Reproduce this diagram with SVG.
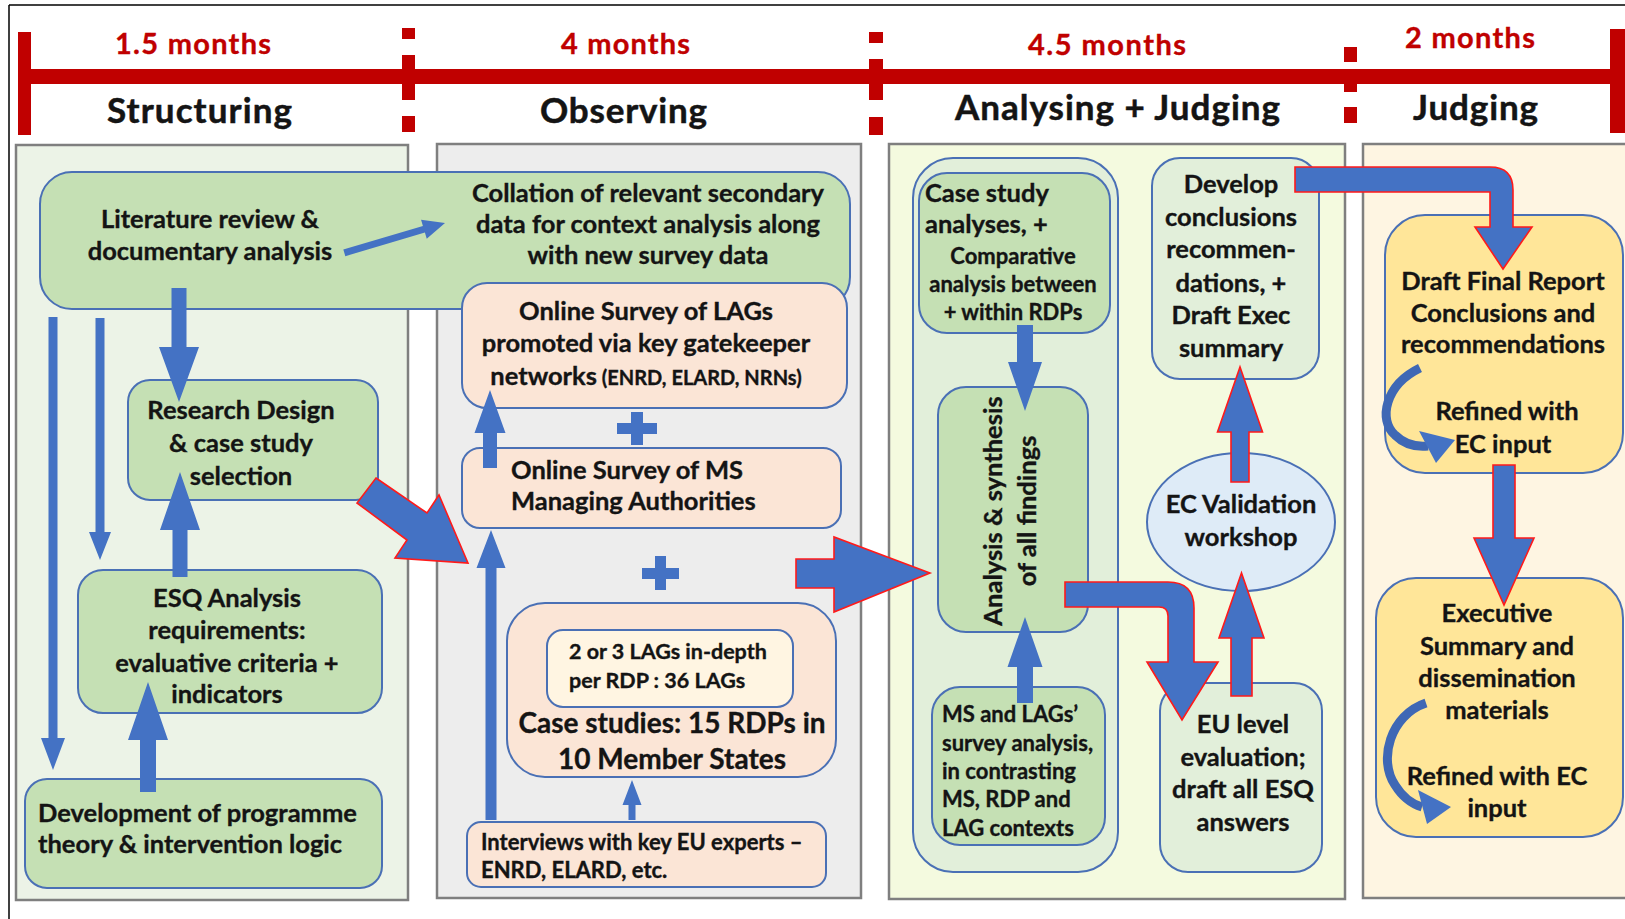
<svg xmlns="http://www.w3.org/2000/svg" width="1625" height="919" viewBox="0 0 1625 919">
<style>
.t{font-family:Lato,"Open Sans","Liberation Sans",sans-serif;font-weight:700;fill:#141414;stroke:#141414;stroke-width:0.35;font-size:25.5px}
.s{font-size:22px}
.xs{font-size:21.5px}
.m{text-anchor:middle}
.red{fill:#C00000;stroke:#C00000;font-size:29px}
.ttl{font-size:35px;stroke-width:0.5}
.col{stroke:#7F7F7F;stroke-width:2.5}
.node{stroke:#4A70B5;stroke-width:2}
.g1{fill:#C5E0B4}
.g2{fill:#E2EFDA}
.pk{fill:#FBE5D6}
.yl{fill:#FFE699}
.ba{fill:#4472C4}
.ra{fill:#4472C4;stroke:#FF1A1A;stroke-width:1.6;stroke-linejoin:miter}
.tl{fill:#C00000}
</style>
<rect width="1625" height="919" fill="#FFFFFF"/>
<g id="frame">
<line x1="9" y1="5" x2="1625" y2="5" stroke="#000" stroke-width="1.5"/>
<line x1="9" y1="5" x2="9" y2="919" stroke="#000" stroke-width="1.5"/>
</g>
<g id="timeline">
<rect class="tl" x="18" y="69" width="1607" height="15"/>
<rect class="tl" x="18" y="32" width="13" height="103"/>
<rect class="tl" x="1610" y="29" width="15" height="104"/>
<rect class="tl" x="402" y="28" width="13" height="11"/>
<rect class="tl" x="402" y="55" width="13" height="45"/>
<rect class="tl" x="402" y="116" width="13" height="16"/>
<rect class="tl" x="869" y="32" width="14" height="11"/>
<rect class="tl" x="869" y="59" width="14" height="41"/>
<rect class="tl" x="869" y="117" width="14" height="18"/>
<rect class="tl" x="1344" y="47" width="13" height="15"/>
<rect class="tl" x="1344" y="69" width="13" height="23"/>
<rect class="tl" x="1344" y="107" width="13" height="16"/>
<text class="t red" x="115" y="54" textLength="156">1.5 months</text>
<text class="t red" x="561" y="54" textLength="129">4 months</text>
<text class="t red" x="1028" y="55" textLength="158">4.5 months</text>
<text class="t red" x="1405" y="48" textLength="130">2 months</text>
<text class="t ttl" x="107" y="123" textLength="185">Structuring</text>
<text class="t ttl" x="540" y="123" textLength="167">Observing</text>
<text class="t ttl" x="955" y="120" textLength="325">Analysing + Judging</text>
<text class="t ttl" x="1413" y="120" textLength="125">Judging</text>
</g>
<g id="columns">
<rect class="col" x="16" y="145" width="392" height="755" fill="#ECF3E7"/>
<rect class="col" x="437" y="144" width="424" height="754" fill="#EDEDED"/>
<rect class="col" x="889" y="144" width="456" height="755" fill="#F4FADF"/>
<rect class="col" x="1363" y="144" width="275" height="754" fill="#FEF5E2"/>
</g>
<g id="n-literature">
<rect class="node g1" x="40" y="172" width="810" height="137" rx="32"/>
<text class="t m" x="210" y="228">Literature review &amp;</text>
<text class="t m" x="210" y="260">documentary analysis</text>
</g>
<g id="n-collation">
<text class="t m" x="648" y="202">Collation of relevant secondary</text>
<text class="t m" x="648" y="233">data for context analysis along</text>
<text class="t m" x="648" y="264">with new survey data</text>
</g>
<g id="n-research">
<rect class="node g1" x="128" y="380" width="250" height="120" rx="22"/>
<text class="t m" x="241" y="419">Research Design</text>
<text class="t m" x="241" y="452">&amp; case study</text>
<text class="t m" x="241" y="485">selection</text>
</g>
<g id="n-esq">
<rect class="node g1" x="78" y="570" width="304" height="143" rx="25"/>
<text class="t m" x="227" y="607">ESQ Analysis</text>
<text class="t m" x="227" y="639">requirements:</text>
<text class="t m" x="227" y="672">evaluative criteria +</text>
<text class="t m" x="227" y="703">indicators</text>
</g>
<g id="n-development">
<rect class="node g1" x="25" y="779" width="357" height="109" rx="22"/>
<text class="t" x="38" y="822">Development of programme</text>
<text class="t" x="38" y="853">theory &amp; intervention logic</text>
</g>
<g id="n-lags">
<rect class="node pk" x="462" y="283" width="385" height="125" rx="25"/>
<text class="t m" x="646" y="320">Online Survey of LAGs</text>
<text class="t m" x="646" y="352">promoted via key gatekeeper</text>
<text class="t m" x="646" y="385">networks<tspan style="font-size:20px"> (ENRD, ELARD, NRNs)</tspan></text>
</g>
<g id="n-ms">
<rect class="node pk" x="462" y="448" width="379" height="80" rx="18"/>
<text class="t" x="511" y="479">Online Survey of MS</text>
<text class="t" x="511" y="510">Managing Authorities</text>
</g>
<g id="n-case">
<rect class="node pk" x="507" y="603" width="329" height="174" rx="38"/>
<rect class="node" x="547" y="630" width="246" height="77" rx="16" fill="#FFF5E2"/>
<text class="t xs" x="569" y="659">2 or 3 LAGs in-depth</text>
<text class="t xs" x="569" y="688">per RDP : 36 LAGs</text>
<text class="t m" x="672" y="733" style="font-size:28px">Case studies: 15 RDPs in</text>
<text class="t m" x="672" y="769" style="font-size:28px">10 Member States</text>
</g>
<g id="n-interviews">
<rect class="node pk" x="467" y="822" width="359" height="65" rx="14"/>
<text class="t s" x="481" y="850">Interviews with key EU experts –</text>
<text class="t s" x="481" y="878">ENRD, ELARD, etc.</text>
</g>
<g id="n-analysis-group">
<rect class="node g2" x="913" y="158" width="205" height="714" rx="40"/>
</g>
<g id="n-casestudy">
<rect class="node g1" x="919" y="173" width="191" height="160" rx="28"/>
<text class="t" x="925" y="202">Case study</text>
<text class="t" x="925" y="233">analyses, +</text>
<text class="t s m" x="1013" y="264">Comparative</text>
<text class="t s m" x="1013" y="292">analysis between</text>
<text class="t s m" x="1013" y="320">+ within RDPs</text>
</g>
<g id="n-synthesis">
<rect class="node g1" x="938" y="387" width="150" height="245" rx="28"/>
<text class="t m" transform="translate(1002,511) rotate(-90)">Analysis &amp; synthesis</text>
<text class="t m" transform="translate(1036,511) rotate(-90)">of all findings</text>
</g>
<g id="n-mslags">
<rect class="node g1" x="932" y="687" width="173" height="158" rx="28"/>
<text class="t s" x="942" y="722">MS and LAGs’</text>
<text class="t s" x="942" y="751">survey analysis,</text>
<text class="t s" x="942" y="779">in contrasting</text>
<text class="t s" x="942" y="807">MS, RDP and</text>
<text class="t s" x="942" y="836">LAG contexts</text>
</g>
<g id="n-develop">
<rect class="node g2" x="1152" y="158" width="167" height="221" rx="28"/>
<text class="t m" x="1231" y="193">Develop</text>
<text class="t m" x="1231" y="226">conclusions</text>
<text class="t m" x="1231" y="258">recommen-</text>
<text class="t m" x="1231" y="292">dations, +</text>
<text class="t m" x="1231" y="324">Draft Exec</text>
<text class="t m" x="1231" y="357">summary</text>
</g>
<g id="n-ecvalidation">
<ellipse class="node" cx="1241" cy="522" rx="94" ry="69" fill="#DEEBF7"/>
<text class="t m" x="1241" y="513">EC Validation</text>
<text class="t m" x="1241" y="546">workshop</text>
</g>
<g id="n-eulevel">
<rect class="node g2" x="1160" y="683" width="162" height="189" rx="28"/>
<text class="t m" x="1243" y="733">EU level</text>
<text class="t m" x="1243" y="766">evaluation;</text>
<text class="t m" x="1243" y="798">draft all ESQ</text>
<text class="t m" x="1243" y="831">answers</text>
</g>
<g id="n-draftfinal">
<rect class="node yl" x="1385" y="215" width="238" height="258" rx="40"/>
<text class="t m" x="1503" y="290">Draft Final Report</text>
<text class="t m" x="1503" y="322">Conclusions and</text>
<text class="t m" x="1503" y="353">recommendations</text>
<text class="t m" x="1507" y="420">Refined with</text>
<text class="t m" x="1503" y="453">EC input</text>
</g>
<g id="n-executive">
<rect class="node yl" x="1376" y="578" width="247" height="259" rx="40"/>
<text class="t m" x="1497" y="622">Executive</text>
<text class="t m" x="1497" y="655">Summary and</text>
<text class="t m" x="1497" y="687">dissemination</text>
<text class="t m" x="1497" y="719">materials</text>
<text class="t m" x="1497" y="785">Refined with EC</text>
<text class="t m" x="1497" y="817">input</text>
</g>
<g id="connectors">
<polygon class="ba" points="0,0 -22,-10 -22,-3.5 -105,-3.5 -105,3.5 -22,3.5 -22,10" transform="translate(445,223) rotate(-16.5)"/>
<polygon class="ba" points="48.5,317 57.5,317 57.5,738 65,738 53,770 41,738 48.5,738"/>
<polygon class="ba" points="95.5,318 104.5,318 104.5,532 111,532 100,560 89,532 95.5,532"/>
<polygon class="ba" points="171.5,288 186.5,288 186.5,347 199,347 179,402 159,347 171.5,347"/>
<polygon class="ba" points="172.5,577 187.5,577 187.5,530 200,530 180,472 160,530 172.5,530"/>
<polygon class="ba" points="140,792 156,792 156,740 168,740 148,682 128,740 140,740"/>
<polygon class="ra" points="376,478 427,513 439,495 468,563 395,558 407,540 357,503"/>
<rect class="ba" x="617" y="423" width="40" height="11"/>
<rect class="ba" x="631" y="412" width="12" height="33"/>
<rect class="ba" x="642" y="568" width="37" height="11"/>
<rect class="ba" x="655" y="556" width="11" height="34"/>
<polygon class="ba" points="483,468 497,468 497,433 505.5,433 490,390 474.5,433 483,433"/>
<polygon class="ba" points="485.5,820 496.5,820 496.5,568 505.5,568 491,530 476.5,568 485.5,568"/>
<polygon class="ba" points="628.5,820 635.5,820 635.5,805 641.5,805 632,780 622.5,805 628.5,805"/>
<polygon class="ra" points="796,559 834,559 834,537 930,573 834,612 834,588 796,588"/>
<polygon class="ba" points="1017,325 1033,325 1033,362 1042,362 1025,411 1008,362 1017,362"/>
<polygon class="ba" points="1017,703 1033,703 1033,667 1042.5,667 1025,617 1007.5,667 1017,667"/>
<path class="ra" d="M1065,582 H1168 Q1194,582 1194,608 V662 H1218 L1182,720 L1147,662 H1168 V616 Q1168,607 1159,607 H1065 Z"/>
<path class="ra" d="M1295,167 H1490 Q1513,167 1513,190 V227 H1532 L1503,269 L1475,227 H1490 V192 H1295 Z"/>
<polygon class="ra" points="1231,482 1249,482 1249,432 1262.5,432 1240,367 1217.5,432 1231,432"/>
<polygon class="ra" points="1231,696 1252,696 1252,638 1264,638 1241.5,573 1219,638 1231,638"/>
<polygon class="ra" points="1493,465 1515,465 1515,538 1534,538 1504,605 1474,538 1493,538"/>
<path d="M1420,368 C1385,385 1378,420 1395,435 C1405,445 1418,447 1428,446" fill="none" stroke="#3F68B5" stroke-width="9"/>
<polygon class="ba" points="1419,431 1455,440 1436,463"/>
<path d="M1426,703 C1390,715 1378,760 1395,785 C1403,798 1412,804 1422,807" fill="none" stroke="#3F68B5" stroke-width="9"/>
<polygon class="ba" points="1418,790 1451,807 1427,824"/>
</g>
</svg>
